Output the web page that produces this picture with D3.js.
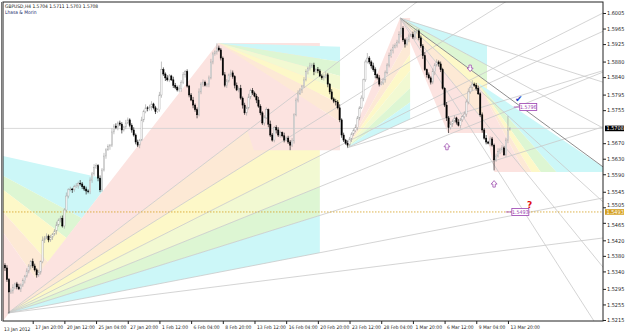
<!DOCTYPE html>
<html>
<head>
<meta charset="utf-8">
<script src="https://cdn.jsdelivr.net/npm/d3@7"></script>
<style>
  body { margin: 0; background: #fff; }
  text { font-family: "Liberation Sans Narrow", "DejaVu Sans Condensed", sans-serif; }
</style>
</head>
<body>
<div id="chart"></div>
<script>
// ---- data ----
const symbolLine = "GBPUSD,H4  1.5704 1.5711 1.5703 1.5708";
const subLine = "Lhasa  &  Morin";

const firstOpen = 1.5356;
const closes = [
  1.5349,1.5319,1.5287,1.5290,1.5298,1.5308,1.5300,1.5295,1.5305,1.5316,1.5328,1.5341,1.5354,1.5365,1.5354,1.5344,
  1.5331,1.5338,1.5365,1.5421,1.5426,1.5431,1.5421,1.5428,1.5436,1.5444,1.5460,1.5472,1.5477,1.5457,1.5498,1.5534,
  1.5550,1.5552,1.5550,1.5558,1.5560,1.5567,1.5565,1.5558,1.5552,1.5547,1.5545,1.5575,1.5591,1.5607,1.5612,1.5580,
  1.5550,1.5601,1.5637,1.5653,1.5661,1.5665,1.5699,1.5714,1.5710,1.5722,1.5719,1.5704,1.5712,1.5722,1.5730,1.5716,
  1.5704,1.5691,1.5673,1.5665,1.5678,1.5730,1.5751,1.5761,1.5759,1.5763,1.5771,1.5761,1.5751,1.5756,1.5794,1.5859,
  1.5848,1.5838,1.5833,1.5843,1.5833,1.5819,1.5814,1.5807,1.5811,1.5827,1.5846,1.5854,1.5817,1.5794,1.5781,1.5768,
  1.5756,1.5743,1.5802,1.5822,1.5827,1.5819,1.5822,1.5838,1.5879,1.5900,1.5905,1.5915,1.5910,1.5889,1.5846,1.5819,
  1.5830,1.5846,1.5851,1.5841,1.5819,1.5807,1.5811,1.5786,1.5768,1.5748,1.5761,1.5789,1.5805,1.5799,1.5791,1.5781,
  1.5765,1.5748,1.5722,1.5735,1.5756,1.5719,1.5691,1.5678,1.5710,1.5704,1.5691,1.5697,1.5689,1.5678,1.5683,1.5673,
  1.5665,1.5676,1.5743,1.5781,1.5797,1.5807,1.5817,1.5833,1.5854,1.5863,1.5869,1.5871,1.5854,1.5859,1.5856,1.5843,
  1.5838,1.5841,1.5846,1.5822,1.5802,1.5784,1.5778,1.5776,1.5761,1.5730,1.5691,1.5678,1.5670,1.5665,1.5681,1.5694,
  1.5702,1.5710,1.5735,1.5761,1.5786,1.5833,1.5879,1.5889,1.5879,1.5869,1.5859,1.5846,1.5838,1.5822,1.5825,1.5833,
  1.5851,1.5871,1.5895,1.5909,1.5917,1.5922,1.5930,1.5949,1.5966,1.5936,1.5925,1.5936,1.5946,1.5949,1.5943,1.5957,
  1.5959,1.5941,1.5920,1.5895,1.5859,1.5846,1.5838,1.5827,1.5854,1.5871,1.5879,1.5874,1.5859,1.5811,1.5768,1.5735,
  1.5710,1.5719,1.5727,1.5735,1.5724,1.5716,1.5730,1.5738,1.5745,1.5776,1.5802,1.5814,1.5822,1.5819,1.5811,1.5797,
  1.5743,1.5704,1.5683,1.5673,1.5670,1.5681,1.5665,1.5627,1.5637,1.5648,1.5653,1.5658,1.5640,1.5678,1.5704,1.5708
];
// wick lengths in pips above the body top / below the body bottom
const wickUp = [
  5,7,4,6,9,3,5,8,4,6,3,7,5,4,8,6, 4,6,3,9,5,7,4,6,3,5,8,4,6,7,5,9,
  4,6,3,5,7,4,8,5,3,6,4,7,5,9,6,4, 7,5,8,4,6,3,9,5,7,4,6,5,3,8,6,4,
  5,7,4,6,3,8,5,9,4,6,7,3,5,4,8,21, 6,4,7,5,3,8,6,4,9,5,7,4,6,3,5,8,
  4,6,9,5,7,4,3,6,8,5,4,12,6,5,4,7, 5,3,8,6,4,7,5,9,4,6,3,8,5,7,4,6,
  8,5,4,7,6,3,9,5,4,6,7,5,3,8,4,6, 5,7,4,6,9,5,3,7,6,4,8,5,6,4,7,5,
  4,6,8,5,3,7,4,6,5,9,4,6,3,7,5,4, 6,8,5,4,7,3,6,13,5,4,8,6,3,7,5,4,
  6,5,8,4,7,5,6,9,26,5,4,7,6,3,8,5, 7,4,6,5,9,3,6,4,8,5,7,4,6,5,3,8,
  5,7,4,6,3,8,5,4,7,6,9,5,10,4,6,7, 4,6,5,8,3,7,5,4,6,9,5,7,4,6,36,3
];
const wickDown = [
  8,6,55,5,7,4,6,3,8,5,7,4,6,9,5,4, 7,5,6,4,8,3,6,5,7,4,9,5,6,4,7,5,
  6,4,8,5,3,7,4,6,5,9,4,6,7,5,3,8, 6,5,4,7,3,8,5,6,4,7,5,9,4,6,3,5,
  7,4,6,5,8,3,6,4,7,5,9,4,6,3,5,7, 5,8,4,6,3,7,5,4,6,9,5,7,4,6,3,8,
  5,9,4,6,7,3,5,8,4,6,5,7,4,6,3,5, 7,4,6,5,8,3,6,4,9,5,7,4,6,5,3,8,
  4,6,5,7,3,8,5,4,6,9,5,7,4,6,3,5, 13,5,7,4,6,3,8,5,4,7,6,5,9,4,6,3,
  5,7,4,8,6,3,5,9,4,6,7,5,4,6,3,8, 5,4,7,6,3,8,5,4,6,7,5,9,4,6,3,5,
  7,4,6,5,8,3,6,4,7,5,9,4,6,3,5,7, 4,6,5,8,3,7,4,6,5,9,4,7,6,3,5,8,
  14,5,7,4,6,3,8,5,4,7,6,5,9,4,6,3, 5,7,4,6,3,8,4,27,5,4,6,7,3,5,8,1
];

const priceTicks = [1.6005,1.5965,1.5925,1.5880,1.5840,1.5795,1.5755,1.5670,1.5630,
                    1.5590,1.5545,1.5505,1.5465,1.5420,1.5380,1.5340,1.5295,1.5255,1.5215];
const timeTickBars = [14,30,46,62,78,94,110,126,142,158,174,190,206,222,238,254];
const timeLabels = ["17 Jan 20:00","20 Jan 12:00","25 Jan 04:00","27 Jan 20:00","1 Feb 12:00",
  "6 Feb 04:00","8 Feb 20:00","13 Feb 12:00","16 Feb 04:00","20 Feb 20:00","23 Feb 12:00",
  "28 Feb 04:00","1 Mar 20:00","6 Mar 12:00","9 Mar 04:00","13 Mar 20:00"];
const firstDate = "13 Jan 2012";

const bidPrice = 1.5708;
const alertPrice = 1.5493;

// fans: origin [bar, price], rays through [bar, price], fill colours between rays,
// fill kept inside the box from/upTo (bars) and ceil/floor (prices)
const fanColors = {pink:"#fce3e0", peach:"#fde9d5", yellow:"#fdf8c8", pale:"#f2f9d2", green:"#ddf6d3", cyan:"#ccf7f8"};
const fans = [
  {origin:[-32.8,1.5673],
   rays:[[-1,1.5637],[-1,1.5586],[-1,1.5550],[-1,1.5493],[-1,1.5441],[-1,1.5176]],
   fills:["cyan","green","yellow","peach","pink"], upTo:49.5, leftOf:[[1.5,1.5233],[107.6,1.5928]], lines:[]},
  {origin:[1.5,1.5233],
   rays:[[107.6,1.5928],[98.5,1.5609],[98.5,1.5542],[302,1.6005],[302,1.5853],[302,1.5712],[302,1.5529],[302,1.5426]],
   fills:["pink","peach","yellow","pale","green","cyan",null], upTo:159, ceil:1.5928, lines:[1,2,3,4,5,6,7]},
  {origin:[107.6,1.5928],
   rays:[[169.2,1.5918],[169.2,1.5879],[169.2,1.5843],[169.2,1.5807],[169.2,1.5771],[169.2,1.5725],[169.2,1.4986]],
   fills:["cyan","green","pale","yellow","peach","pink"], from:107.6, upTo:169.2, floor:1.5652, lines:[]},
  {origin:[172.7,1.5658],
   rays:[[199.5,1.5992],[204.6,1.5948],[204.6,1.5899],[204.6,1.5856],[204.6,1.5812],[204.6,1.5775],[204.6,1.5732],[204.6,1.5707]],
   fills:["pink","peach","yellow","pale","green","cyan",null], from:172.7, upTo:204.6, ceil:1.5992, floor:1.5658, lines:[6,7]},
  {origin:[199.5,1.5992],
   rays:[[302,1.5827],[302,1.5709],[302,1.5609],[302,1.5519],[302,1.5351],[302,1.5176],[223.7,1.5696]],
   fills:["cyan","green","yellow","peach","pink","pink"], from:199.5, upTo:243.4, floor:1.5696, lines:[0,1,2,3,4,5], dark:2},
  {origin:[238.4,1.5827],
   rays:[[302,1.5609],[302,1.5460],[302,1.5369],[302,1.5292],[302,1.5215],[247,1.5601]],
   fills:["cyan","green","yellow","peach","pink"], from:238.4, floor:1.5596, lines:[]}
];

const upArrows = [[223.2,1.5671],[247,1.5575]];
const downArrows = [[234.9,1.5853]];
const priceTags = [{bar:264, price:1.5763, text:"1.5796"}, {bar:260, price:1.5493, text:"1.5493"}];
const checkMark = [259.5, 1.5784];
const questionMark = [265, 1.5511];

// ---- drawing ----
const width = 625, height = 334;
const plot = {left: 3, right: 603, top: 2, bottom: 321};

const svg = d3.select("#chart").append("svg")
  .attr("width", width)
  .attr("height", height)
  .style("display", "block");

const x = d3.scaleLinear().domain([-1, 302]).range([plot.left, plot.right]);
const y = d3.scaleLinear().domain([1.52124, 1.60333]).range([plot.bottom, plot.top]);

const defs = svg.append("defs");
defs.append("clipPath").attr("id", "plotClip").append("rect")
  .attr("x", plot.left).attr("y", plot.top)
  .attr("width", plot.right - plot.left).attr("height", plot.bottom - plot.top);

const chart = svg.append("g").attr("clip-path", "url(#plotClip)");
const fillLayer = chart.append("g");
const lineLayer = chart.append("g");

function farPoint(X0, Y0, b, p) {
  const dx = x(b) - X0, dy = y(p) - Y0;
  const k = 2000 / Math.hypot(dx, dy);
  return [X0 + dx * k, Y0 + dy * k];
}

fans.forEach((f, fi) => {
  const X0 = x(f.origin[0]), Y0 = y(f.origin[1]);
  const far = f.rays.map(r => farPoint(X0, Y0, r[0], r[1]));
  const cx0 = f.from != null ? x(f.from) : plot.left;
  const cx1 = f.upTo != null ? x(f.upTo) : plot.right;
  const cy0 = f.ceil != null ? y(f.ceil) : plot.top;
  const cy1 = f.floor != null ? y(f.floor) : plot.bottom;
  const id = "fan" + fi;
  const cp = defs.append("clipPath").attr("id", id);
  if (f.leftOf) {
    // box cut by a rising line: keep the part on its upper-left side
    const [a, b] = f.leftOf;
    const ax = x(a[0]), ay = y(a[1]), bx = x(b[0]), by = y(b[1]);
    const yAt = xx => ay + (by - ay) * (xx - ax) / (bx - ax);
    const xAt = yy => ax + (bx - ax) * (yy - ay) / (by - ay);
    cp.append("path").attr("d", d3.line()([
      [cx0, cy0], [cx1, cy0], [cx1, yAt(cx1)], [Math.max(cx0, xAt(cy1)), cy1], [cx0, cy1]
    ]) + "Z");
  } else {
    cp.append("rect").attr("x", cx0).attr("y", cy0).attr("width", cx1 - cx0).attr("height", cy1 - cy0);
  }
  const g = fillLayer.append("g").attr("clip-path", `url(#${id})`);
  f.fills.forEach((c, k) => {
    if (!c) return;
    g.append("path")
      .attr("d", d3.line()([[X0, Y0], far[k], far[k + 1]]) + "Z")
      .attr("fill", fanColors[c]);
  });
  f.lines.forEach(k => {
    lineLayer.append("line")
      .attr("x1", X0).attr("y1", Y0)
      .attr("x2", far[k][0]).attr("y2", far[k][1])
      .attr("stroke", k === f.dark ? "#8e8e8e" : "#c9c9c9")
      .attr("stroke-width", k === f.dark ? 1 : 0.8);
  });
});

// bid line and alert line
lineLayer.append("line")
  .attr("x1", plot.left).attr("x2", plot.right)
  .attr("y1", y(bidPrice)).attr("y2", y(bidPrice))
  .attr("stroke", "#cfcfcf").attr("stroke-width", 0.8);
lineLayer.append("line")
  .attr("x1", plot.left).attr("x2", plot.right)
  .attr("y1", y(alertPrice)).attr("y2", y(alertPrice))
  .attr("stroke", "#d4a020").attr("stroke-width", 0.8)
  .attr("stroke-dasharray", "1.5,1.5");

// candles
const candles = closes.map((c, i) => {
  const o = i ? closes[i - 1] : firstOpen;
  return {i, o, c,
    h: Math.max(o, c) + wickUp[i] * 1e-4,
    l: Math.min(o, c) - wickDown[i] * 1e-4};
});
const cg = chart.append("g");
cg.selectAll("line").data(candles).join("line")
  .attr("x1", d => x(d.i)).attr("x2", d => x(d.i))
  .attr("y1", d => y(d.h)).attr("y2", d => y(d.l))
  .attr("stroke", d => d.c >= d.o ? "#a8a8a8" : "#222")
  .attr("stroke-width", 0.7);
cg.selectAll("rect").data(candles).join("rect")
  .attr("x", d => x(d.i) - 0.65)
  .attr("width", 1.3)
  .attr("y", d => y(Math.max(d.o, d.c)))
  .attr("height", d => Math.max(0.6, Math.abs(y(d.o) - y(d.c))))
  .attr("fill", d => d.c >= d.o ? "#fff" : "#000")
  .attr("stroke", d => d.c >= d.o ? "#a8a8a8" : "#000")
  .attr("stroke-width", 0.45);

// arrows
const arrowUp = "M0,-3.5 L3,0 L1.2,0 L1.2,3 L-1.2,3 L-1.2,0 L-3,0 Z";
chart.append("g").selectAll("path").data(upArrows).join("path")
  .attr("transform", d => `translate(${x(d[0])},${y(d[1]) + 4})`)
  .attr("d", arrowUp)
  .attr("fill", "#fff").attr("stroke", "#a050b0").attr("stroke-width", 0.8);
chart.append("g").selectAll("path").data(downArrows).join("path")
  .attr("transform", d => `translate(${x(d[0])},${y(d[1]) - 4}) rotate(180)`)
  .attr("d", arrowUp)
  .attr("fill", "#fff").attr("stroke", "#a050b0").attr("stroke-width", 0.8);

// price tags
priceTags.forEach(t => {
  const tx = x(t.bar), ty = y(t.price);
  chart.append("line").attr("x1", tx - 14).attr("x2", tx - 8).attr("y1", ty).attr("y2", ty)
    .attr("stroke", "#9a3fb0").attr("stroke-width", 0.8);
  chart.append("rect").attr("x", tx - 8).attr("y", ty - 3.5).attr("width", 17).attr("height", 7)
    .attr("fill", "#fff").attr("stroke", "#9a3fb0").attr("stroke-width", 0.8);
  chart.append("text").attr("x", tx + 0.5).attr("y", ty + 2).attr("text-anchor", "middle")
    .attr("font-size", 5.3).attr("fill", "#9a3fb0").text(t.text);
});
chart.append("text").attr("x", x(checkMark[0])).attr("y", y(checkMark[1]) + 3)
  .attr("text-anchor", "middle").attr("font-size", 9).attr("fill", "#1f3fc8")
  .style("font-family", "DejaVu Sans").text("\u2714");
chart.append("text").attr("x", x(questionMark[0])).attr("y", y(questionMark[1]) + 3)
  .attr("text-anchor", "middle").attr("font-size", 9).attr("font-weight", "bold")
  .attr("fill", "#e01010").style("font-family", "DejaVu Sans").text("?");

// frame
svg.append("rect")
  .attr("x", plot.left).attr("y", plot.top)
  .attr("width", plot.right - plot.left).attr("height", plot.bottom - plot.top)
  .attr("fill", "none").attr("stroke", "#222").attr("stroke-width", 1);
svg.append("line").attr("x1", 1.5).attr("x2", 1.5).attr("y1", plot.top).attr("y2", plot.bottom)
  .attr("stroke", "#777").attr("stroke-width", 1);

// price axis
svg.append("g")
  .attr("transform", `translate(${plot.right},0)`)
  .call(d3.axisRight(y).tickValues(priceTicks).tickSize(3).tickPadding(1).tickFormat(d3.format(".4f")))
  .call(g => g.select(".domain").remove())
  .call(g => g.selectAll("text").attr("font-size", 5.5).attr("fill", "#222").style("font-family", null)
    .attr("dy", d => d === 1.5505 ? "-0.1em" : d === 1.5465 ? "0.75em" : "0.32em"))
  .call(g => g.selectAll("line").attr("stroke", "#222"));

// highlighted price labels
[[bidPrice, "#000"], [alertPrice, "#d4a020"]].forEach(([p, col]) => {
  svg.append("rect").attr("x", plot.right + 2).attr("y", y(p) - 2.8).attr("width", 19).attr("height", 5.6).attr("fill", col);
  svg.append("text").attr("x", plot.right + 3.5).attr("y", y(p) + 1.9).attr("font-size", 5.5)
    .attr("fill", "#fff").text(d3.format(".4f")(p));
});

// time axis
svg.append("g")
  .attr("transform", `translate(0,${plot.bottom})`)
  .call(d3.axisBottom(x).tickValues(timeTickBars).tickSize(3).tickFormat((d, i) => timeLabels[i]))
  .call(g => g.select(".domain").remove())
  .call(g => g.selectAll("line").attr("stroke", "#222"))
  .call(g => g.selectAll("text").attr("text-anchor", "start").attr("x", 2).attr("y", 5)
    .attr("font-size", 4.9).attr("fill", "#222").style("font-family", null));
svg.append("text").attr("x", plot.left + 1).attr("y", plot.bottom + 10)
  .attr("font-size", 4.9).attr("fill", "#222").text(firstDate);

// header
svg.append("text").attr("x", 5).attr("y", 8).attr("font-size", 4.9).attr("fill", "#111").text(symbolLine);
svg.append("text").attr("x", 5).attr("y", 14).attr("font-size", 4.9).attr("fill", "#1a2a6a").text(subLine);
</script>
</body>
</html>
